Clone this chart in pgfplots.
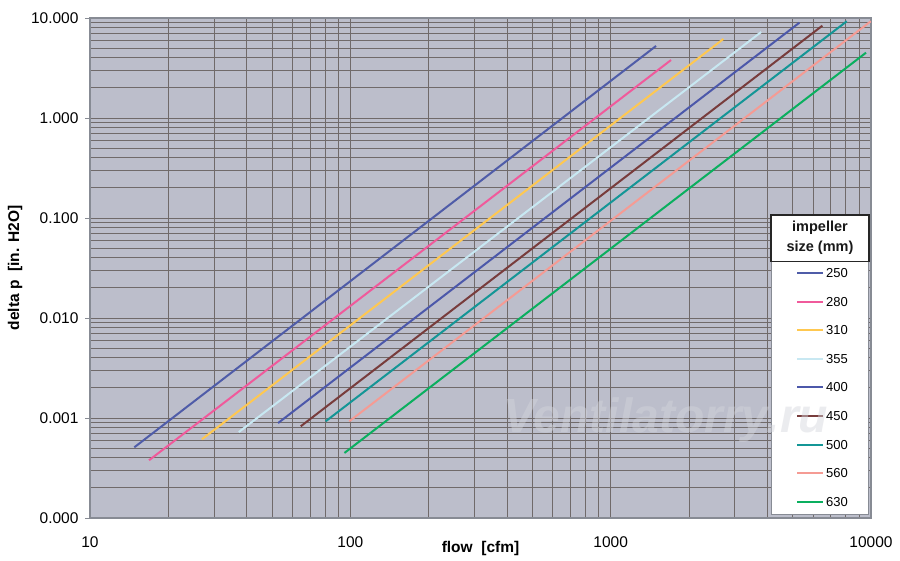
\documentclass[border=0pt]{standalone}
\usepackage{fontspec}
\setmainfont{Liberation Sans}
\usepackage{pgfplots}
\pgfplotsset{compat=1.18}
\definecolor{bgc}{RGB}{188,190,203}
\definecolor{gridc}{RGB}{112,106,106}
\definecolor{framec}{RGB}{135,139,148}
\definecolor{c250}{RGB}{79,92,168}
\definecolor{c280}{RGB}{240,90,155}
\definecolor{c310}{RGB}{255,200,80}
\definecolor{c355}{RGB}{200,232,242}
\definecolor{c400}{RGB}{76,88,170}
\definecolor{c450}{RGB}{120,60,60}
\definecolor{c500}{RGB}{20,150,150}
\definecolor{c560}{RGB}{245,155,148}
\definecolor{c630}{RGB}{10,175,95}
\definecolor{wmc}{RGB}{212,213,220}
\begin{document}
\begin{tikzpicture}[x=1pt,y=1pt]
\useasboundingbox (0,0) rectangle (900,561);
\begin{axis}[
  at={(90pt,43pt)}, anchor=south west,
  scale only axis, width=781pt, height=500pt,
  xmode=log, ymode=log,
  xmin=10, xmax=10000, ymin=1e-4, ymax=10,
  axis background/.style={fill=bgc},
  grid=both,
  major grid style={draw=gridc, line width=0.85pt},
  minor grid style={draw=gridc, line width=0.85pt},
  axis line style={draw=framec, line width=1.6pt},
  tick align=outside,
  major tick length=5pt, minor tick length=0pt,
  xtick pos=bottom, ytick pos=left,
  xtick style={draw=none},
  ytick style={draw=framec, line width=0.8pt},
  xtick={10,100,1000,10000}, xticklabels={10,100,1000,10000},
  ytick={1e-4,1e-3,1e-2,1e-1,1,10},
  yticklabels={0.000,0.001,0.010,0.100,1.000,10.000},
  tick label style={font=\fontsize{15.5}{18}\selectfont, text=black},
  xticklabel style={yshift=-10pt},
  yticklabel style={xshift=-3pt},
  /pgf/number format/assume math mode=true,
  xlabel={flow\ \ [cfm]},
  ylabel={delta p\ \ [in. H2O]},
  xlabel style={font=\fontsize{15.5}{18}\selectfont\bfseries, at={(axis description cs:0.5,-0.06)}, anchor=center},
  ylabel style={font=\fontsize{15.5}{18}\selectfont\bfseries, at={(axis description cs:-0.096,0.5)}, anchor=center},
  legend cell align=left,
  legend image code/.code={\draw[#1, line width=2pt] (0pt,0pt) -- (26pt,0pt);},
  legend style={at={(axis description cs:0.904,0.4999)}, anchor=north west,
    draw=none, fill=none, inner sep=0pt, row sep=19.3pt, column sep=2pt,
    font=\fontsize{13}{15}\selectfont,
    nodes={inner sep=0pt, text height=9.3pt, text depth=0pt}},
]
\addplot[c250, line width=2pt] coordinates {(14.8,0.000509) (1494,5.25)};
\addlegendentry{250}
\addplot[c280, line width=2pt] coordinates {(16.86,0.000378) (1706,3.80)};
\addlegendentry{280}
\addplot[c310, line width=2pt] coordinates {(26.9,0.000612) (2710,6.17)};
\addlegendentry{310}
\addplot[c355, line width=2pt] coordinates {(37.3,0.000724) (3786,7.24)};
\addlegendentry{355}
\addplot[c400, line width=2pt] coordinates {(52.8,0.000891) (5309,8.98)};
\addlegendentry{400}
\addplot[c450, line width=2pt] coordinates {(64.5,0.000826) (6504,8.38)};
\addlegendentry{450}
\addplot[c500, line width=2pt] coordinates {(80.4,0.000927) (8069,9.27)};
\addlegendentry{500}
\addplot[c560, line width=2pt] coordinates {(99.1,0.000927) (9980,9.27)};
\addlegendentry{560}
\addplot[c630, line width=2pt] coordinates {(94.9,0.000447) (9570,4.50)};
\addlegendentry{630}
% legend boxes
\fill[white, draw=framec, line width=1pt] (axis description cs:0.8720,0.008) rectangle (axis description cs:0.9974,0.5126);
\fill[white, draw=black!85, line width=1.5pt] (axis description cs:0.8720,0.5126) rectangle (axis description cs:0.9974,0.606);
\node[font=\fontsize{14.5}{19.4}\selectfont\bfseries, align=center, text=black!90] at (axis description cs:0.9347,0.5606) {impeller\\size (mm)};
\end{axis}
\node[anchor=base west, font=\fontsize{48}{50}\selectfont\bfseries\itshape, text=wmc, opacity=0.45] at (500,128) {Ventilatorry.ru};
\end{tikzpicture}
\end{document}
